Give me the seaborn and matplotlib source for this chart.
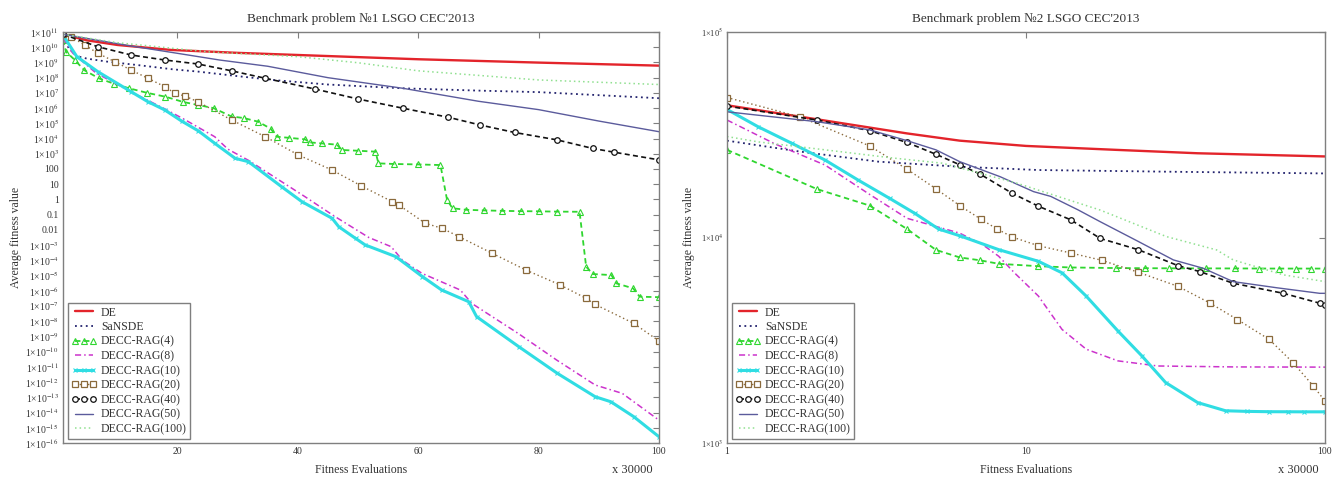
import numpy as np
import matplotlib
matplotlib.use("Agg")
import matplotlib.pyplot as plt
from matplotlib.ticker import FixedLocator, FixedFormatter, NullLocator
import seaborn as sns

sns.set_style("white")
plt.rcParams["font.family"] = ["Liberation Serif", "DejaVu Serif"]
plt.rcParams["mathtext.fontset"] = "stix"

# ---------------- series names ----------------
names = ["DE", "SaNSDE", "DECC-RAG(4)", "DECC-RAG(8)", "DECC-RAG(10)",
         "DECC-RAG(20)", "DECC-RAG(40)", "DECC-RAG(50)", "DECC-RAG(100)"]

# ---------------- problem 1: x (x 30000 evaluations), log10 of fitness ----------------
p1_de_x = [1, 5, 10, 19, 30, 40, 50, 60, 70, 80, 90, 100]
p1_de_lg = [10.85, 10.45, 10.15, 9.82, 9.63, 9.49, 9.35, 9.21, 9.10, 8.99, 8.89, 8.79]

p1_sansde_x = [1, 2, 3.4, 5, 8.4, 14, 19.2, 23.4, 30, 35.8, 45, 57.5, 70, 80, 90, 100]
p1_sansde_lg = [10.7, 9.9, 9.4, 9.25, 9.05, 8.8, 8.55, 8.4, 8.1, 7.85, 7.55, 7.3, 7.15, 7.05, 6.85, 6.65]

p1_rag4_x = [1, 1.5, 3, 4.5, 7, 9.5, 12, 15, 18, 21, 23.5, 26, 29, 31, 33.4, 35.5, 36.5,
             38.5, 41.2, 42, 44, 46.5, 47.3, 50, 52.9, 53.4, 56, 60, 63.7, 64.8, 65.7,
             68, 71, 74, 77, 80, 83, 86.8, 87.9, 89, 92.1, 92.9, 95.7, 96.8, 100]
p1_rag4_lg = [10.5, 9.7, 9.15, 8.5, 7.95, 7.6, 7.3, 7.0, 6.75, 6.4, 6.2, 6.0, 5.45, 5.35, 5.11, 4.65, 4.12,
              4.05, 3.95, 3.75, 3.68, 3.6, 3.25, 3.2, 3.14, 2.37, 2.33, 2.3, 2.26, -0.04, -0.58,
              -0.68, -0.72, -0.75, -0.77, -0.78, -0.8, -0.81, -4.42, -4.9, -4.97, -5.51, -5.84, -6.39, -6.42]

p1_rag8_x = [1, 2.65, 6.5, 12.9, 17.9, 21.2, 26.2, 28.4, 31.8, 37.3, 41.2, 46.2, 51.8, 55.5,
             57.4, 60.6, 67, 68.9, 76.6, 83, 89.4, 93.9, 100]
p1_rag8_lg = [10.6, 9.6, 8.3, 6.95, 5.95, 5.25, 4.12, 3.3, 2.57, 1.17, 0.18, -1.13, -2.5, -3.1,
              -4.0, -4.85, -5.95, -6.83, -8.8, -10.55, -12.19, -12.74, -14.5]

p1_rag10_x = [1, 3.3, 6.8, 12.3, 15.1, 17.9, 20.7, 23.5, 26.2, 29.6, 31.8, 37.3, 40.7, 45.7,
              46.8, 49.6, 51.2, 56.3, 60.7, 63.9, 68.4, 69.7, 76.7, 83.1, 89.4, 92, 95.8, 100]
p1_rag10_lg = [10.8, 9.38, 8.39, 7.08, 6.42, 5.88, 5.15, 4.5, 3.69, 2.70, 2.48, 0.84, -0.15, -1.24,
               -1.79, -2.56, -2.99, -3.76, -5.07, -5.95, -6.72, -7.7, -9.67, -11.42, -12.96, -13.29, -14.27, -15.59]

p1_rag20_x = [1, 2.3, 4.6, 6.8, 9.6, 12.3, 15.1, 17.9, 19.6, 21.2, 23.4, 29, 34.6, 40.1, 45.7,
              50.5, 55.7, 56.8, 61.2, 64, 66.8, 72.3, 77.9, 83.5, 87.9, 89.4, 95.8, 100]
p1_rag20_lg = [10.85, 10.69, 10.15, 9.6, 9.05, 8.5, 7.96, 7.41, 6.97, 6.8, 6.42, 5.22, 4.12, 2.92, 1.93,
               0.9, -0.15, -0.37, -1.57, -1.9, -2.45, -3.54, -4.64, -5.6, -6.5, -6.9, -8.14, -9.3]

p1_rag40_x = [1, 6.8, 12.3, 17.9, 23.4, 29, 34.6, 42.9, 50, 57.5, 65, 70.3, 76, 83.1, 89, 92.6, 100]
p1_rag40_lg = [10.85, 10.03, 9.49, 9.16, 8.9, 8.45, 7.96, 7.25, 6.6, 5.99, 5.4, 4.89, 4.4, 3.91, 3.35, 3.1, 2.6]

p1_rag50_x = [1, 12, 20, 27, 35, 45, 57.5, 70, 80, 90, 100]
p1_rag50_lg = [10.85, 10.1, 9.6, 9.16, 8.75, 8.0, 7.3, 6.45, 5.9, 5.15, 4.45]

p1_rag100_x = [1, 10, 25, 40, 50, 60, 70, 80, 90, 100]
p1_rag100_lg = [10.85, 10.3, 9.7, 9.38, 8.98, 8.45, 8.15, 7.85, 7.7, 7.55]

# ---------------- problem 2: x (x 30000 evaluations), fitness ----------------
p2_de_x = [1, 2, 4, 6, 10, 20, 37.5, 100]
p2_de_y = [44000, 37600, 32100, 29600, 27900, 26700, 25700, 24800]

p2_sansde_x = [1, 1.75, 3.2, 6, 11, 30, 100]
p2_sansde_y = [29600, 26200, 23400, 22100, 21300, 20900, 20500]

p2_rag4_x = [1, 2, 3, 4, 5, 6, 7, 8.1, 11, 14, 20, 25, 30, 40, 50, 60, 70, 80, 90, 100]
p2_rag4_y = [26700, 17200, 14300, 11000, 8700, 8000, 7750, 7450, 7250, 7150, 7100, 7090, 7080, 7075,
             7070, 7065, 7060, 7060, 7060, 7060]

p2_rag8_x = [1, 1.45, 2.13, 3, 4, 6, 7.16, 8.1, 9.15, 11, 13.2, 15.9, 20.3, 27.6, 50, 100]
p2_rag8_y = [37300, 28500, 22500, 16200, 12400, 10500, 9230, 8110, 6730, 5190, 3570, 2860, 2510, 2370, 2345, 2340]

p2_rag10_x = [1, 1.27, 1.65, 2.13, 2.75, 3.5, 4.25, 5.1, 6, 8.1, 11, 13.2, 15.9, 20.3, 24.4,
              29.3, 37.5, 46.5, 55, 65, 75, 85, 100]
p2_rag10_y = [42000, 34600, 28700, 23800, 19000, 15500, 13100, 11000, 10200, 8730, 7660, 6730, 5185, 3508, 2655,
              1969, 1573, 1435, 1425, 1420, 1419, 1418, 1418]

p2_rag20_x = [1, 1.75, 3, 4, 5, 6, 7.05, 8, 9, 11, 14.1, 17.9, 23.7, 32.2, 41.1, 50.9, 65.1, 78.2, 91.2, 100]
p2_rag20_y = [48000, 38700, 27900, 21500, 17250, 14300, 12300, 11000, 10050, 9120, 8410, 7750, 6780, 5790,
              4810, 3990, 3190, 2460, 1900, 1600]

p2_rag40_x = [1, 2, 3, 4, 5, 6, 7, 9, 11, 14.1, 17.7, 23.7, 32.2, 38.2, 49.3, 72.6, 96, 100]
p2_rag40_y = [43600, 37300, 33100, 29000, 25400, 22600, 20400, 16400, 14200, 12200, 9900, 8730, 7300, 6820,
              5990, 5350, 4790, 4720]

p2_rag50_x = [1, 2, 3, 4, 5, 6, 8.19, 10.6, 12.1, 14.9, 17.7, 23.7, 31.1, 39.2, 49.3, 69.2, 96, 100]
p2_rag50_y = [40900, 36600, 33400, 29600, 26700, 23400, 19770, 16720, 15850, 13650, 11940, 9580, 7780, 7080,
              6100, 5690, 5350, 5350]

p2_rag100_x = [1, 1.27, 2.13, 3.56, 5.24, 9.3, 17.7, 29.5, 43.4, 49.3, 72.6, 100]
p2_rag100_y = [31000, 29200, 26700, 24400, 23000, 18400, 13600, 10100, 8700, 7780, 6580, 6100]

# ---------------- tick labels ----------------
p1_xticks = [20, 40, 60, 80, 100]
p1_ytick_exps = list(range(-16, 12))
p2_xticks = [1, 10, 100]
p2_xticklabels = ["1", "10", "100"]
p2_yticks = [1e3, 1e4, 1e5]
p2_yticklabels = ["1×10$^{3}$", "1×10$^{4}$", "1×10$^{5}$"]

titles = ["Benchmark problem №1 LSGO CEC'2013", "Benchmark problem №2 LSGO CEC'2013"]

# ---------------- line styles ----------------
STYLE = {
    "DE":            dict(color="#e3242b", ls="-", lw=1.7, marker=None),
    "SaNSDE":        dict(color="#23236e", ls=(0, (1, 2)), lw=1.3, marker=None),
    "DECC-RAG(4)":   dict(color="#2fd62f", ls=(0, (3, 2)), lw=1.3, marker="^", ms=3.8, mfc="none", mew=0.8),
    "DECC-RAG(8)":   dict(color="#cc33cc", ls=(0, (4, 2, 1, 2)), lw=1.1, marker=None),
    "DECC-RAG(10)":  dict(color="#30dde3", ls="-", lw=2.2, marker="x", ms=3, mfc="none", mew=0.8),
    "DECC-RAG(20)":  dict(color="#8a6a3c", ls=(0, (1, 2)), lw=1.0, marker="s", ms=4.5, mfc="white", mew=0.9),
    "DECC-RAG(40)":  dict(color="#111111", ls=(0, (3, 2)), lw=1.2, marker="o", ms=4, mfc="white", mew=0.9),
    "DECC-RAG(50)":  dict(color="#5b5b9c", ls="-", lw=1.0, marker=None),
    "DECC-RAG(100)": dict(color="#90e090", ls=(0, (1, 2)), lw=1.1, marker=None),
}

p1_data = {
    "DE": (p1_de_x, p1_de_lg), "SaNSDE": (p1_sansde_x, p1_sansde_lg),
    "DECC-RAG(4)": (p1_rag4_x, p1_rag4_lg), "DECC-RAG(8)": (p1_rag8_x, p1_rag8_lg),
    "DECC-RAG(10)": (p1_rag10_x, p1_rag10_lg), "DECC-RAG(20)": (p1_rag20_x, p1_rag20_lg),
    "DECC-RAG(40)": (p1_rag40_x, p1_rag40_lg), "DECC-RAG(50)": (p1_rag50_x, p1_rag50_lg),
    "DECC-RAG(100)": (p1_rag100_x, p1_rag100_lg),
}
p2_data = {
    "DE": (p2_de_x, p2_de_y), "SaNSDE": (p2_sansde_x, p2_sansde_y),
    "DECC-RAG(4)": (p2_rag4_x, p2_rag4_y), "DECC-RAG(8)": (p2_rag8_x, p2_rag8_y),
    "DECC-RAG(10)": (p2_rag10_x, p2_rag10_y), "DECC-RAG(20)": (p2_rag20_x, p2_rag20_y),
    "DECC-RAG(40)": (p2_rag40_x, p2_rag40_y), "DECC-RAG(50)": (p2_rag50_x, p2_rag50_y),
    "DECC-RAG(100)": (p2_rag100_x, p2_rag100_y),
}

TEXT = "#333333"
FRAME = "#7f7f7f"


def draw_series(ax, x, y, name):
    st = STYLE[name]
    kw = dict(color=st["color"], linestyle=st["ls"], linewidth=st["lw"])
    if st["marker"]:
        kw.update(marker=st["marker"], markersize=st["ms"], markerfacecolor=st["mfc"],
                  markeredgecolor=st["color"], markeredgewidth=st["mew"])
    else:
        kw.update(marker="")
    sns.lineplot(x=np.asarray(x, float), y=np.asarray(y, float), ax=ax, label=name,
                 estimator=None, sort=False, legend=False, **kw)


def style_axes(ax, title):
    for sp in ax.spines.values():
        sp.set_color(FRAME)
        sp.set_linewidth(1.0)
    ax.tick_params(which="major", direction="in", length=4, width=0.8, color=FRAME,
                   top=True, right=True, labelcolor=TEXT, pad=3)
    ax.tick_params(which="minor", length=0)
    ax.set_title(title, fontsize=9.5, color=TEXT, pad=7)
    ax.set_xlabel("Fitness Evaluations", fontsize=8.5, color=TEXT)
    ax.xaxis.set_label_coords(0.5, -0.05)
    ax.set_ylabel("Average fitness value", fontsize=8.5, color=TEXT)
    ax.text(0.955, -0.052, "x 30000", transform=ax.transAxes, ha="center", va="top",
            fontsize=9, color=TEXT)
    leg = ax.legend(loc="lower left", bbox_to_anchor=(0.008, 0.01), borderaxespad=0,
                    frameon=True, fancybox=False, edgecolor=FRAME, framealpha=1,
                    fontsize=8.5, handlelength=2.1, handletextpad=0.4, labelspacing=0.22,
                    borderpad=0.3, numpoints=3)
    leg.get_frame().set_linewidth(1.0)
    for t in leg.get_texts():
        t.set_color(TEXT)


fig = plt.figure(figsize=(13.42, 4.8), dpi=100)
ax1 = fig.add_axes([63 / 1342, 1 - 443 / 480, 596 / 1342, 411 / 480])
ax2 = fig.add_axes([727 / 1342, 1 - 443 / 480, 598 / 1342, 411 / 480])

# problem 1: linear x, log y
for name in names:
    x, lg = p1_data[name]
    draw_series(ax1, x, np.power(10.0, np.asarray(lg, float)), name)
ax1.set_yscale("log")
ax1.set_xlim(1, 100)
ax1.set_ylim(1e-16, 1e11)
ax1.xaxis.set_major_locator(FixedLocator(p1_xticks))
ax1.xaxis.set_major_formatter(FixedFormatter([str(v) for v in p1_xticks]))


def exp_label(e):
    if -2 <= e <= 2:
        return {-2: "0.01", -1: "0.1", 0: "1", 1: "10", 2: "100"}[e]
    return "1×10$^{%d}$" % e


ax1.yaxis.set_major_locator(FixedLocator([10.0 ** e for e in p1_ytick_exps]))
ax1.yaxis.set_major_formatter(FixedFormatter([exp_label(e) for e in p1_ytick_exps]))
ax1.yaxis.set_minor_locator(NullLocator())
ax1.tick_params(axis="y", labelsize=7)
ax1.tick_params(axis="x", labelsize=7)
style_axes(ax1, titles[0])
ax1.yaxis.set_label_coords(-0.069, 0.5)

# problem 2: log x, log y
for name in names:
    x, y = p2_data[name]
    draw_series(ax2, x, y, name)
ax2.set_xscale("log")
ax2.set_yscale("log")
ax2.set_xlim(1, 100)
ax2.set_ylim(1e3, 1e5)
ax2.xaxis.set_major_locator(FixedLocator(p2_xticks))
ax2.xaxis.set_major_formatter(FixedFormatter(p2_xticklabels))
ax2.xaxis.set_minor_locator(NullLocator())
ax2.yaxis.set_major_locator(FixedLocator(p2_yticks))
ax2.yaxis.set_major_formatter(FixedFormatter(p2_yticklabels))
ax2.yaxis.set_minor_locator(NullLocator())
ax2.tick_params(axis="y", labelsize=6)
ax2.tick_params(axis="x", labelsize=7)
style_axes(ax2, titles[1])
ax2.yaxis.set_label_coords(-0.054, 0.5)

fig.savefig("out.png", dpi=100, facecolor="white")
